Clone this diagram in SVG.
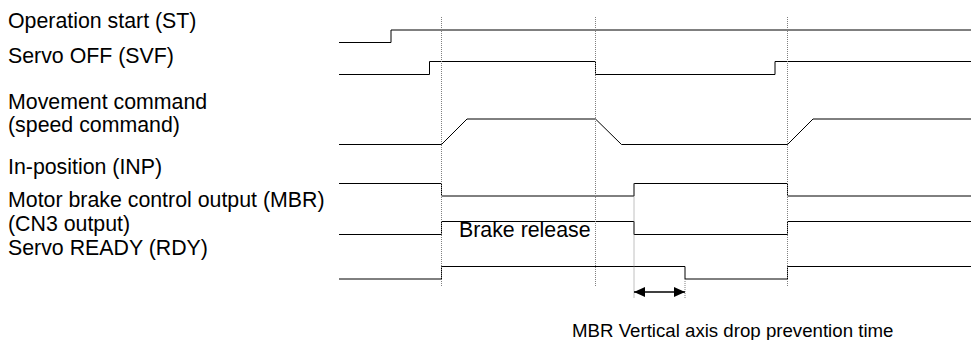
<svg xmlns="http://www.w3.org/2000/svg" width="971" height="340" viewBox="0 0 971 340">
<style>
text{font-family:"Liberation Sans",Arial,sans-serif;fill:#000}
.lbl{font-size:21.33px}
.small{font-size:18.67px}
.tr{fill:none;stroke:#000;stroke-width:1}
.guide{fill:none;stroke:#808080;stroke-width:1;stroke-dasharray:1 1}
.dim{fill:none;stroke:#000;stroke-width:1.5}
</style>
<defs>
<marker id="ah" viewBox="0 0 11 10" refX="11" refY="5" markerWidth="11" markerHeight="10" markerUnits="userSpaceOnUse" orient="auto-start-reverse">
<path d="M0,0 L11,5 L0,10 z" fill="#000"/>
</marker>
</defs>
<rect width="971" height="340" fill="#fff"/>
<g id="st">
<text class="lbl" x="8" y="28">Operation start (ST)</text>
<path class="tr" d="M339,42.5 H391 V30 H971"/>
</g>
<g id="svf">
<text class="lbl" x="8" y="62.5">Servo OFF (SVF)</text>
<path class="tr" d="M339,74.5 H429.5 V61.5 H595.5 V74.5 H775 V61.5 H971"/>
</g>
<g id="movement">
<text class="lbl" x="8" y="109">Movement command</text>
<text class="lbl" x="8" y="132">(speed command)</text>
<path class="tr" d="M339,144.5 H441.5 L467,119 H595.5 L621.5,144.5 H787.5 L813,119 H971"/>
</g>
<g id="inp">
<text class="lbl" x="8" y="174">In-position (INP)</text>
</g>
<g id="mbr">
<text class="lbl" x="8" y="207">Motor brake control output (MBR)</text>
<path class="tr" d="M339,183.5 H441.5 V196 H634 V183.5 H787.5 V196 H971"/>
</g>
<g id="cn3">
<text class="lbl" x="8" y="231">(CN3 output)</text>
<path class="tr" d="M339,234.5 H441.5 V221.5 H634 V234.5 H787.5 V221.5 H971"/>
<text class="lbl" x="459" y="237">Brake release</text>
</g>
<g id="rdy">
<text class="lbl" x="8" y="255">Servo READY (RDY)</text>
<path class="tr" d="M339,279 H441.5 V266.5 H685 V279 H787.5 V266.5 H971"/>
</g>
<g id="connectors">
<path class="guide" d="M441.5,17 V286 M595.5,17 V286 M787.5,17 V286 M634,183.5 V298 M685,279 V298"/>
<line class="dim" x1="634" y1="292" x2="685" y2="292" marker-start="url(#ah)" marker-end="url(#ah)"/>
</g>
<g id="note">
<text class="small" x="572" y="336.5">MBR Vertical axis drop prevention time</text>
</g>
</svg>
